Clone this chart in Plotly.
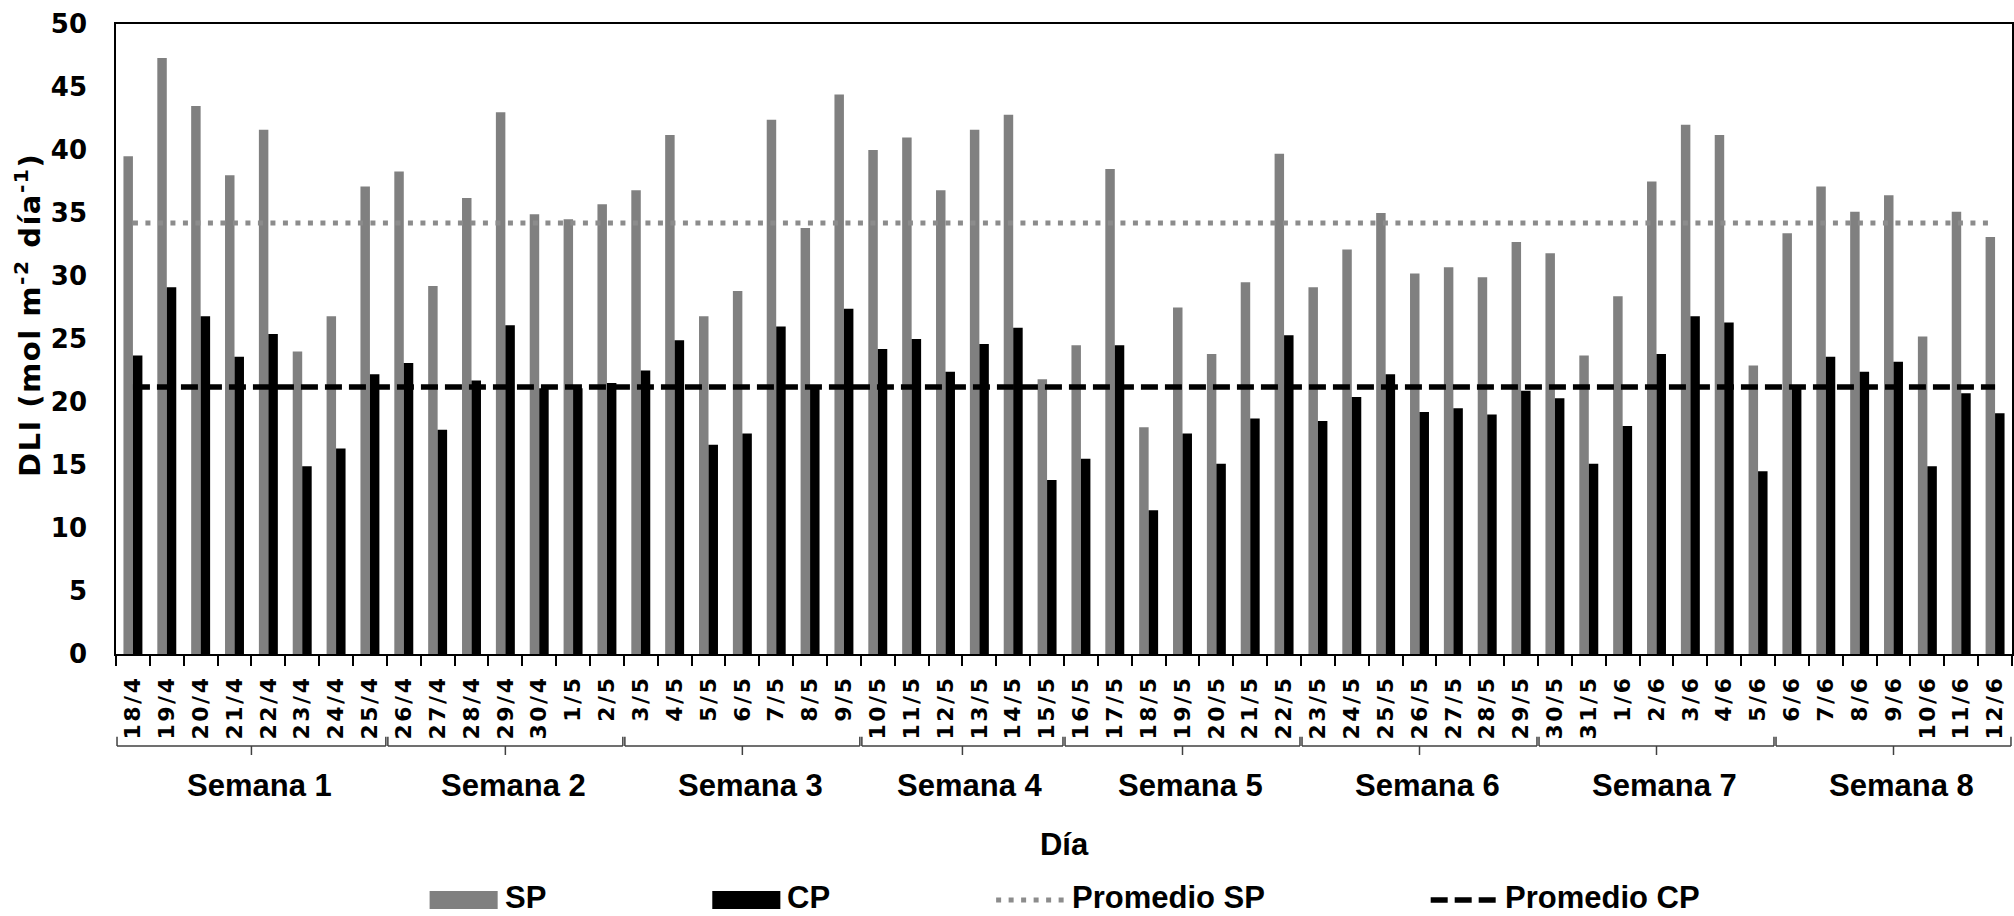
import plotly.graph_objects as go

# ---------------- data ----------------
days = ["18/4", "19/4", "20/4", "21/4", "22/4", "23/4", "24/4", "25/4",
        "26/4", "27/4", "28/4", "29/4", "30/4", "1/5", "2/5",
        "3/5", "4/5", "5/5", "6/5", "7/5", "8/5", "9/5",
        "10/5", "11/5", "12/5", "13/5", "14/5", "15/5",
        "16/5", "17/5", "18/5", "19/5", "20/5", "21/5", "22/5",
        "23/5", "24/5", "25/5", "26/5", "27/5", "28/5", "29/5",
        "30/5", "31/5", "1/6", "2/6", "3/6", "4/6", "5/6",
        "6/6", "7/6", "8/6", "9/6", "10/6", "11/6", "12/6"]

sp = [39.5, 47.3, 43.5, 38.0, 41.6, 24.0, 26.8, 37.1,
      38.3, 29.2, 36.2, 43.0, 34.9, 34.5, 35.7,
      36.8, 41.2, 26.8, 28.8, 42.4, 33.8, 44.4,
      40.0, 41.0, 36.8, 41.6, 42.8, 21.8,
      24.5, 38.5, 18.0, 27.5, 23.8, 29.5, 39.7,
      29.1, 32.1, 35.0, 30.2, 30.7, 29.9, 32.7,
      31.8, 23.7, 28.4, 37.5, 42.0, 41.2, 22.9,
      33.4, 37.1, 35.1, 36.4, 25.2, 35.1, 33.1]

cp = [23.7, 29.1, 26.8, 23.6, 25.4, 14.9, 16.3, 22.2,
      23.1, 17.8, 21.7, 26.1, 21.1, 21.1, 21.5,
      22.5, 24.9, 16.6, 17.5, 26.0, 21.1, 27.4,
      24.2, 25.0, 22.4, 24.6, 25.9, 13.8,
      15.5, 24.5, 11.4, 17.5, 15.1, 18.7, 25.3,
      18.5, 20.4, 22.2, 19.2, 19.5, 19.0, 20.9,
      20.3, 15.1, 18.1, 23.8, 26.8, 26.3, 14.5,
      21.2, 23.6, 22.4, 23.2, 14.9, 20.7, 19.1]

promedio_sp = 34.2
promedio_cp = 21.2

week_labels = ["Semana 1", "Semana 2", "Semana 3", "Semana 4",
               "Semana 5", "Semana 6", "Semana 7", "Semana 8"]
week_sizes = [8, 7, 7, 6, 7, 7, 7, 7]

y_ticks = [0, 5, 10, 15, 20, 25, 30, 35, 40, 45, 50]

y_title = "DLI (mol m<sup>-2</sup> día<sup>-1</sup>)"
x_title = "Día"

# ---------------- styles ----------------
SP_COLOR = "#808080"
CP_COLOR = "#000000"
AVG_SP_COLOR = "#8c8c8c"
TICK_FONT = "DejaVu Sans"
TEXT_FONT = "Liberation Sans, Arial"
DOT = "5px,7.5px"
DASH = "17px,7px"

fig = go.Figure()
fig.add_trace(go.Bar(x=days, y=sp, name="SP", marker=dict(color=SP_COLOR, line=dict(width=0)),
                     showlegend=False))
fig.add_trace(go.Bar(x=days, y=cp, name="CP", marker=dict(color=CP_COLOR, line=dict(width=0)),
                     showlegend=False))
fig.add_trace(go.Scatter(x=days, y=[promedio_sp] * len(days), mode="lines", name="Promedio SP",
                         line=dict(color=AVG_SP_COLOR, width=5, dash=DOT),
                         showlegend=False))
fig.add_trace(go.Scatter(x=days, y=[promedio_cp] * len(days), mode="lines", name="Promedio CP",
                         line=dict(color="black", width=5.5, dash=DASH),
                         showlegend=False))

ticktext = ['<span style="letter-spacing:2.5px">%s</span>' % d for d in days]

fig.update_layout(
    width=2014, height=916,
    margin=dict(l=116, r=0, t=24, b=262),
    paper_bgcolor="white", plot_bgcolor="white",
    barmode="group", bargap=0.44, bargroupgap=0,
    xaxis=dict(
        type="category", range=[-0.5, len(days) - 0.5],
        tickvals=days, ticktext=ticktext,
        showline=True, linecolor="black", linewidth=1.5, mirror=True,
        ticks="outside", tickson="boundaries", ticklen=10, tickwidth=1.5, tickcolor="black",
        tickangle=-90, showgrid=False, ticklabelstandoff=11,
        tickfont=dict(family=TICK_FONT, size=22, weight="bold", color="black"),
        title=dict(text=x_title, standoff=95,
                   font=dict(family=TEXT_FONT, size=31, weight="bold", color="black")),
    ),
    yaxis=dict(
        range=[0, 50], tickvals=y_ticks, showgrid=False, zeroline=False,
        showline=True, linecolor="black", linewidth=1.5, mirror=True,
        ticks="", ticklabelstandoff=22,
        tickfont=dict(family=TICK_FONT, size=26, weight="bold", color="black"),
    ),
)

# y-axis title (placed like the original, slightly above the axis centre)
fig.add_annotation(x=-0.0464, y=0.538, xref="paper", yref="paper",
                   text='<span style="letter-spacing:1.5px">%s</span>' % y_title,
                   textangle=-90, showarrow=False, xanchor="center", yanchor="middle",
                   font=dict(family=TICK_FONT, size=29, weight="bold", color="black"))

# ---------------- week brackets & labels ----------------
BR_TOP, BR_MID, BR_BOT = -0.1313, -0.146, -0.1603
br_line = dict(color="#404040", width=1.5)
start = 0
for label, n in zip(week_labels, week_sizes):
    end = start + n - 1
    x0, x1 = start - 0.47, end + 0.47
    xc = (x0 + x1) / 2
    for (ax, ay, bx, by) in [(x0, BR_TOP, x0, BR_MID), (x0, BR_MID, x1, BR_MID),
                             (x1, BR_MID, x1, BR_TOP), (xc, BR_MID, xc, BR_BOT)]:
        fig.add_shape(type="line", xref="x", yref="paper", x0=ax, y0=ay, x1=bx, y1=by,
                      line=br_line)
    fig.add_annotation(x=xc, y=-0.208, xref="x", yref="paper", text=label, showarrow=False,
                       xanchor="center", yanchor="middle", xshift=8,
                       font=dict(family=TEXT_FONT, size=31, weight="bold", color="black"))
    start += n

# ---------------- legend (custom, below chart) ----------------
LEG_Y = -0.3905
LEG_TEXT_Y = -0.3873
legend_items = [
    ("SP", "bar", SP_COLOR, None, 0.1654, 0.2013),
    ("CP", "bar", CP_COLOR, None, 0.3145, 0.3504),
    ("Promedio SP", "line", AVG_SP_COLOR, DOT, 0.4642, 0.5005),
    ("Promedio CP", "line", "black", DASH, 0.6934, 0.7292),
]
for text, kind, color, dash, lx0, lx1 in legend_items:
    if kind == "bar":
        fig.add_shape(type="rect", xref="paper", yref="paper", x0=lx0, x1=lx1,
                      y0=LEG_Y + 0.0143, y1=LEG_Y - 0.0143,
                      fillcolor=color, line=dict(width=0))
    else:
        fig.add_shape(type="line", xref="paper", yref="paper", x0=lx0, x1=lx1,
                      y0=LEG_Y, y1=LEG_Y,
                      line=dict(color=color, width=5 if dash == DOT else 5.5, dash=dash))
    fig.add_annotation(x=lx1 + 0.0026, y=LEG_TEXT_Y, xref="paper", yref="paper", text=text,
                       showarrow=False, xanchor="left", yanchor="middle",
                       font=dict(family=TEXT_FONT, size=31, weight="bold", color="black"))

fig.write_html("out.html", config={"displayModeBar": False},
               post_script="document.body.style.margin='0';document.body.style.overflow='hidden';")
